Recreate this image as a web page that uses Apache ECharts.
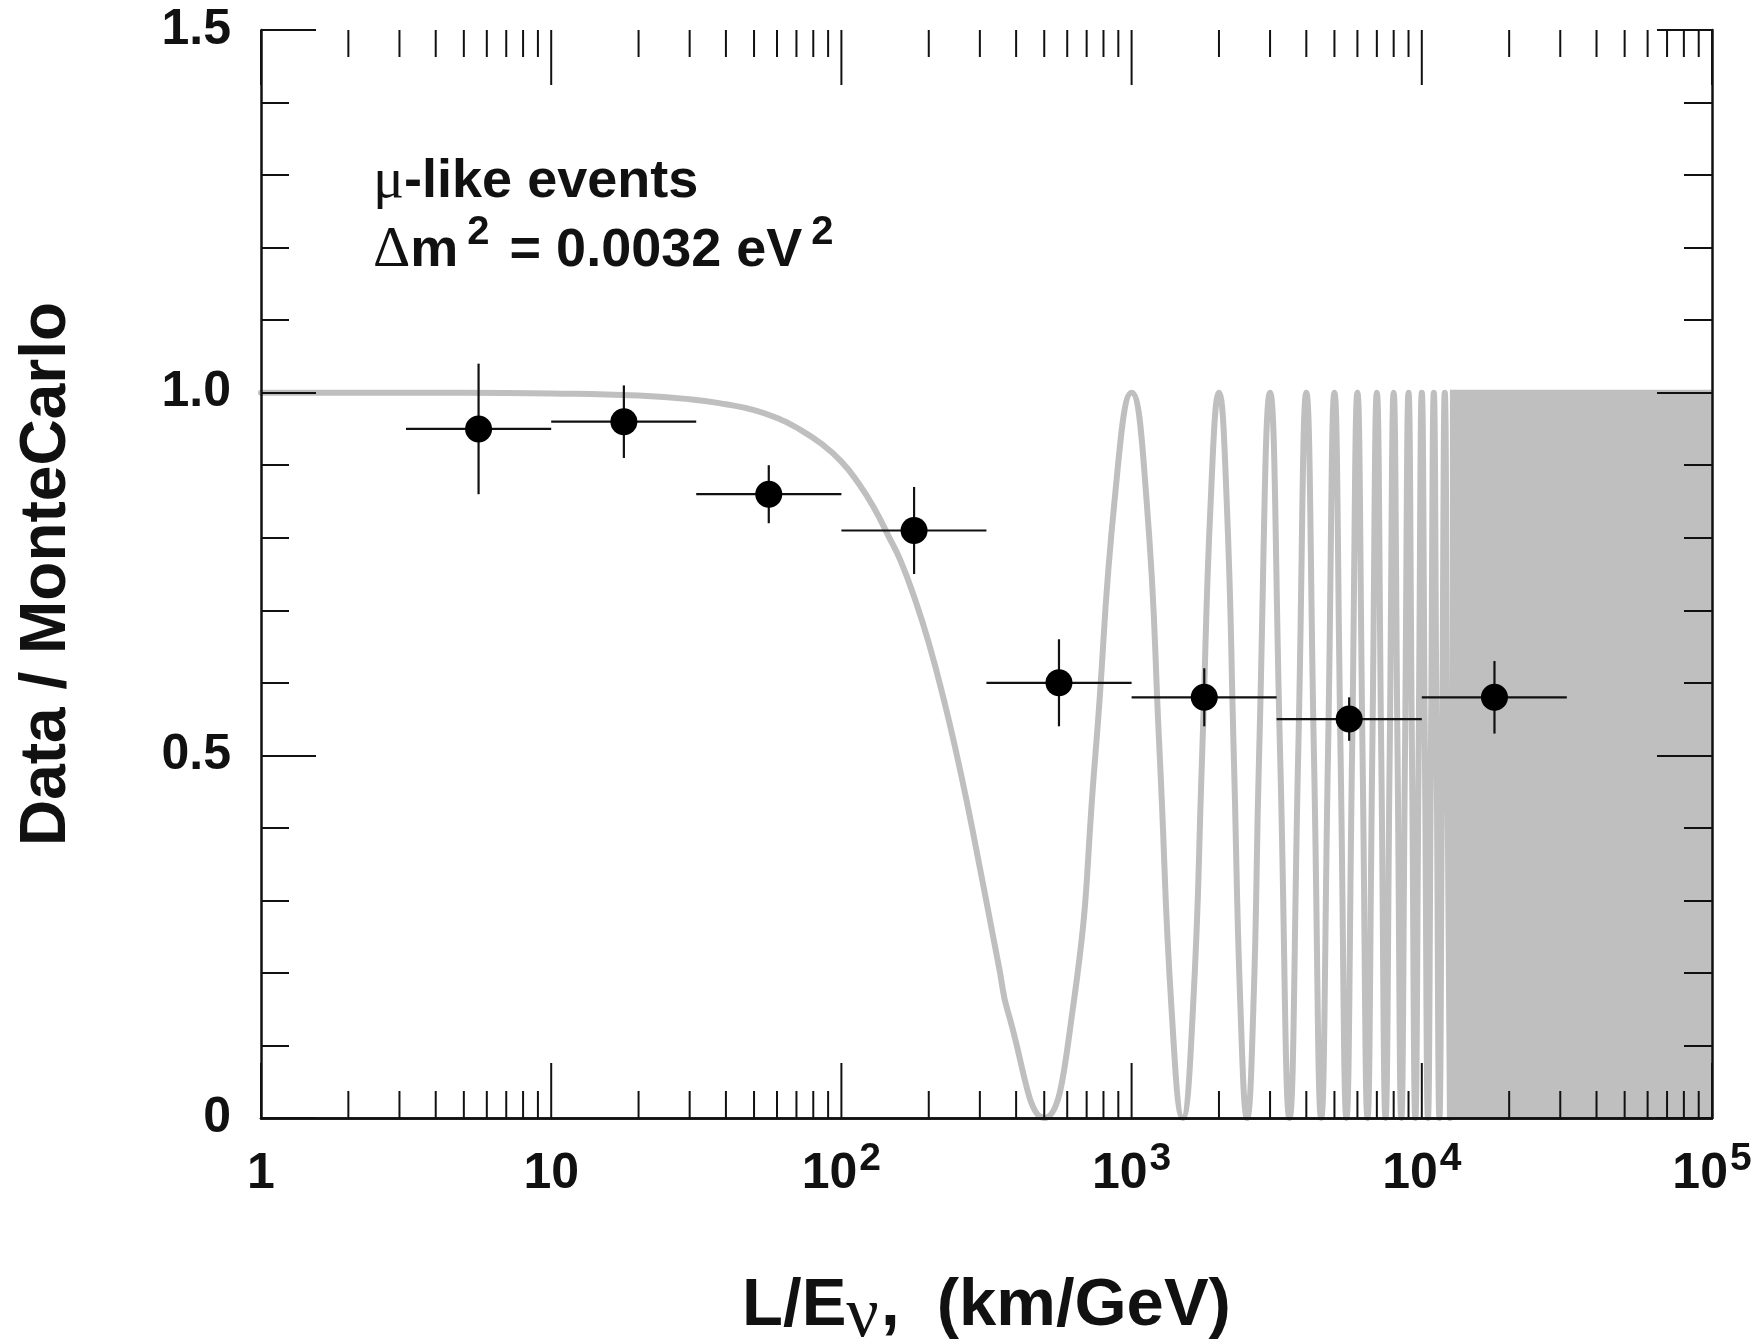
<!DOCTYPE html>
<html>
<head>
<meta charset="utf-8">
<script src="https://cdn.jsdelivr.net/npm/echarts@6/dist/echarts.min.js"></script>
<style>
html, body { margin: 0; padding: 0; background: #ffffff; }
#chart { width: 1764px; height: 1339px; }
</style>
</head>
<body>
<div id="chart"></div>
<script>
// ---------------- data ----------------
// measured points (Data / MonteCarlo) in L/E bins
const binCenter = [5.62, 17.8, 56.2, 178, 562, 1780, 5620, 17800];
const binLow    = [3.16, 10, 31.6, 100, 316, 1000, 3160, 10000];
const binHigh   = [10, 31.6, 100, 316, 1000, 3160, 10000, 31600];
const ratio     = [0.95, 0.96, 0.86, 0.81, 0.60, 0.58, 0.55, 0.58];
const errDown   = [0.09, 0.05, 0.04, 0.06, 0.06, 0.04, 0.03, 0.05];
const errUp     = [0.09, 0.05, 0.04, 0.06, 0.06, 0.04, 0.03, 0.05];

// expected curve (grey)
const descentL = [1, 5, 10, 20, 30, 40, 50, 60, 70, 85, 100, 115, 130, 145, 160, 180, 200, 225,
                  250, 275, 300, 325, 350, 375];
const descentP = [1.0, 1.0, 0.999, 0.996, 0.991, 0.984, 0.976, 0.965, 0.952, 0.930, 0.905, 0.874,
                  0.840, 0.803, 0.768, 0.713, 0.655, 0.578, 0.5, 0.422, 0.345, 0.273, 0.206, 0.146];
const troughL  = [500, 1500, 2500, 3500, 4500, 5500, 6500, 7500, 8500, 9500, 10500, 11500, 12500];   // value 0
const peakL    = [1000, 2000, 3000, 4000, 5000, 6000, 7000, 8000, 9000, 10000, 11000, 12000];        // value 1
const halfL    = [750, 1250, 1750, 2250, 2750, 3250, 3750, 4250, 4750, 5250, 5750, 6250, 6750, 7250,
                  7750, 8250, 8750, 9250, 9750, 10250, 10750, 11250, 11750, 12250];                  // value 0.5
const lowQuarterL  = [625, 1375, 1625, 2375, 2625];   // value 0.146
const highQuarterL = [875, 1125, 1875, 2125];         // value 0.854
// unresolved fast oscillation region (solid grey band)
const bandL   = [12500, 100000];
const bandTop = [1, 1];

// axis ticks / labels
const xTickBase = ['1', '10', '10', '10', '10', '10'];
const xTickExp  = ['', '', '2', '3', '4', '5'];
const xDecades  = [1, 10, 100, 1000, 10000, 100000];
const xMinorMult = [2, 3, 4, 5, 6, 7, 8, 9];
const yTickLabels = { '0': '0', '0.5': '0.5', '1': '1.0', '1.5': '1.5' };

// ---------------- build series data ----------------
let curve = descentL.map((l, i) => [l, descentP[i]]);
troughL.forEach(l => curve.push([l, 0]));
peakL.forEach(l => curve.push([l, 1]));
halfL.forEach(l => curve.push([l, 0.5]));
lowQuarterL.forEach(l => curve.push([l, 0.146]));
highQuarterL.forEach(l => curve.push([l, 0.854]));
curve.sort((a, b) => a[0] - b[0]);

const band = bandL.map((l, i) => [l, bandTop[i]]);
const points = binCenter.map((x, i) => [x, ratio[i]]);
const bars = binCenter.map((x, i) => [x, ratio[i], binLow[i], binHigh[i], ratio[i] - errDown[i], ratio[i] + errUp[i]]);
// x ticks: [value, isMajor]
const xTicks = [];
xDecades.forEach((d, k) => {
  xTicks.push([d, 1]);
  if (k < xDecades.length - 1) xMinorMult.forEach(m => xTicks.push([d * m, 0]));
});

const GREY = '#bfbfbf';
const INK = '#111111';
const FONT = 'Liberation Sans, Arial, Helvetica, sans-serif';
const SERIF = 'Liberation Serif, Times New Roman, serif';

const chart = echarts.init(document.getElementById('chart'), null, { renderer: 'canvas' });

const axisLineStyle = { show: true, lineStyle: { color: INK, width: 2.5 } };

const option = {
  animation: false,
  backgroundColor: '#ffffff',
  textStyle: { fontFamily: FONT },
  grid: { left: 261, right: 52, top: 30, bottom: 221, containLabel: false, outerBoundsMode: 'none' },
  xAxis: [
    {
      type: 'log', logBase: 10, min: 1, max: 100000, splitNumber: 5, position: 'bottom', z: 10,
      axisLine: axisLineStyle,
      axisTick: { show: false },
      splitLine: { show: false },
      axisLabel: {
        margin: 19,
        formatter: function (v) {
          const i = Math.round(Math.log10(v));
          return xTickExp[i] ? '{b|' + xTickBase[i] + '}{s|' + xTickExp[i] + '}' : '{b|' + xTickBase[i] + '}';
        },
        rich: {
          b: { fontFamily: FONT, fontSize: 50, fontWeight: 'bold', color: INK, padding: [12, 0, 12, 0] },
          s: { fontFamily: FONT, fontSize: 39, fontWeight: 'bold', color: INK, padding: [0, 0, 30, 2] }
        }
      },
      name: '{n|L/E}{g|ν}{n|,  (km/GeV)}',
      nameLocation: 'middle',
      nameGap: 153,
      nameTextStyle: {
        rich: {
          n: { fontFamily: FONT, fontSize: 67, fontWeight: 'bold', color: INK, padding: [0, 0, 10, 0] },
          g: { fontFamily: SERIF, fontSize: 72, fontWeight: 'normal', color: INK, padding: [10, 2, 0, 0] }
        }
      }
    },
    {
      type: 'log', logBase: 10, min: 1, max: 100000, splitNumber: 5, position: 'top', z: 10,
      axisLine: axisLineStyle,
      axisTick: { show: false },
      axisLabel: { show: false },
      splitLine: { show: false }
    }
  ],
  yAxis: [
    {
      type: 'value', min: 0, max: 1.5, interval: 0.5, position: 'left', z: 10,
      axisLine: axisLineStyle,
      axisTick: { show: true, inside: true, length: 55, lineStyle: { color: INK, width: 2 } },
      minorTick: { show: true, splitNumber: 5, length: 28, lineStyle: { color: INK, width: 2 } },
      splitLine: { show: false },
      axisLabel: {
        margin: 30, fontFamily: FONT, fontSize: 50, fontWeight: 'bold', color: INK,
        formatter: function (v) { return yTickLabels[String(+v.toFixed(1))]; }
      },
      name: 'Data / MonteCarlo',
      nameLocation: 'middle',
      nameGap: 182,
      nameTextStyle: { fontFamily: FONT, fontSize: 64, fontWeight: 'bold', color: INK }
    },
    {
      type: 'value', min: 0, max: 1.5, interval: 0.5, position: 'right', z: 10,
      axisLine: axisLineStyle,
      axisTick: { show: true, inside: true, length: 55, lineStyle: { color: INK, width: 2 } },
      minorTick: { show: true, splitNumber: 5, length: 28, lineStyle: { color: INK, width: 2 } },
      splitLine: { show: false },
      axisLabel: { show: false }
    }
  ],
  graphic: [
    {
      type: 'text', left: 373, top: 153, z: 20,
      style: {
        text: '{g|μ}{b|-like events}',
        rich: {
          g: { fontFamily: SERIF, fontSize: 58, fontWeight: 'normal', fill: INK, lineHeight: 62 },
          b: { fontFamily: FONT, fontSize: 54, fontWeight: 'bold', fill: INK, lineHeight: 62 }
        }
      }
    },
    {
      type: 'text', left: 373, top: 213, z: 20,
      style: {
        text: '{g|Δ}{b|m}{s|2}{b| = 0.0032 eV}{s|2}',
        rich: {
          g: { fontFamily: SERIF, fontSize: 58, fontWeight: 'normal', fill: INK, padding: [18, 0, 18, 0] },
          b: { fontFamily: FONT, fontSize: 54, fontWeight: 'bold', fill: INK, padding: [18, 0, 18, 0] },
          s: { fontFamily: FONT, fontSize: 40, fontWeight: 'bold', fill: INK, padding: [0, 5, 36, 9] }
        }
      }
    }
  ],
  series: [
    {
      name: 'band', type: 'line', data: band, xAxisIndex: 0, yAxisIndex: 0,
      showSymbol: false, symbol: 'none', z: 2,
      lineStyle: { color: GREY, width: 6 },
      areaStyle: { color: GREY, opacity: 1 }
    },
    {
      name: 'expectation', type: 'line', data: curve, xAxisIndex: 0, yAxisIndex: 0,
      showSymbol: false, symbol: 'none', smooth: 0.5, z: 3,
      lineStyle: { color: GREY, width: 6, cap: 'round', join: 'round' }
    },
    {
      name: 'errors', type: 'custom', data: bars, xAxisIndex: 0, yAxisIndex: 0, z: 5, clip: false,
      renderItem: function (params, api) {
        const y = api.value(1);
        const l = api.coord([api.value(2), y]);
        const r = api.coord([api.value(3), y]);
        const lo = api.coord([api.value(0), api.value(4)]);
        const hi = api.coord([api.value(0), api.value(5)]);
        return {
          type: 'group',
          children: [
            { type: 'line', shape: { x1: l[0], y1: l[1], x2: r[0], y2: r[1] }, style: { stroke: INK, lineWidth: 2.2 } },
            { type: 'line', shape: { x1: lo[0], y1: lo[1], x2: hi[0], y2: hi[1] }, style: { stroke: INK, lineWidth: 2.2 } }
          ]
        };
      }
    },
    {
      name: 'data', type: 'scatter', data: points, xAxisIndex: 0, yAxisIndex: 0, z: 6,
      symbol: 'circle', symbolSize: 27,
      itemStyle: { color: '#000000', opacity: 1 }
    },
    {
      name: 'xTicks', type: 'custom', data: xTicks, xAxisIndex: 0, yAxisIndex: 0, z: 11, clip: false,
      silent: true,
      renderItem: function (params, api) {
        const v = api.value(0);
        const len = api.value(1) ? 55 : 27;
        const b = api.coord([v, 0]);
        const t = api.coord([v, 1.5]);
        return {
          type: 'group',
          children: [
            { type: 'line', shape: { x1: b[0], y1: b[1], x2: b[0], y2: b[1] - len }, style: { stroke: INK, lineWidth: 2 } },
            { type: 'line', shape: { x1: t[0], y1: t[1], x2: t[0], y2: t[1] + len }, style: { stroke: INK, lineWidth: 2 } }
          ]
        };
      }
    }
  ]
};

chart.setOption(option);
</script>
</body>
</html>
